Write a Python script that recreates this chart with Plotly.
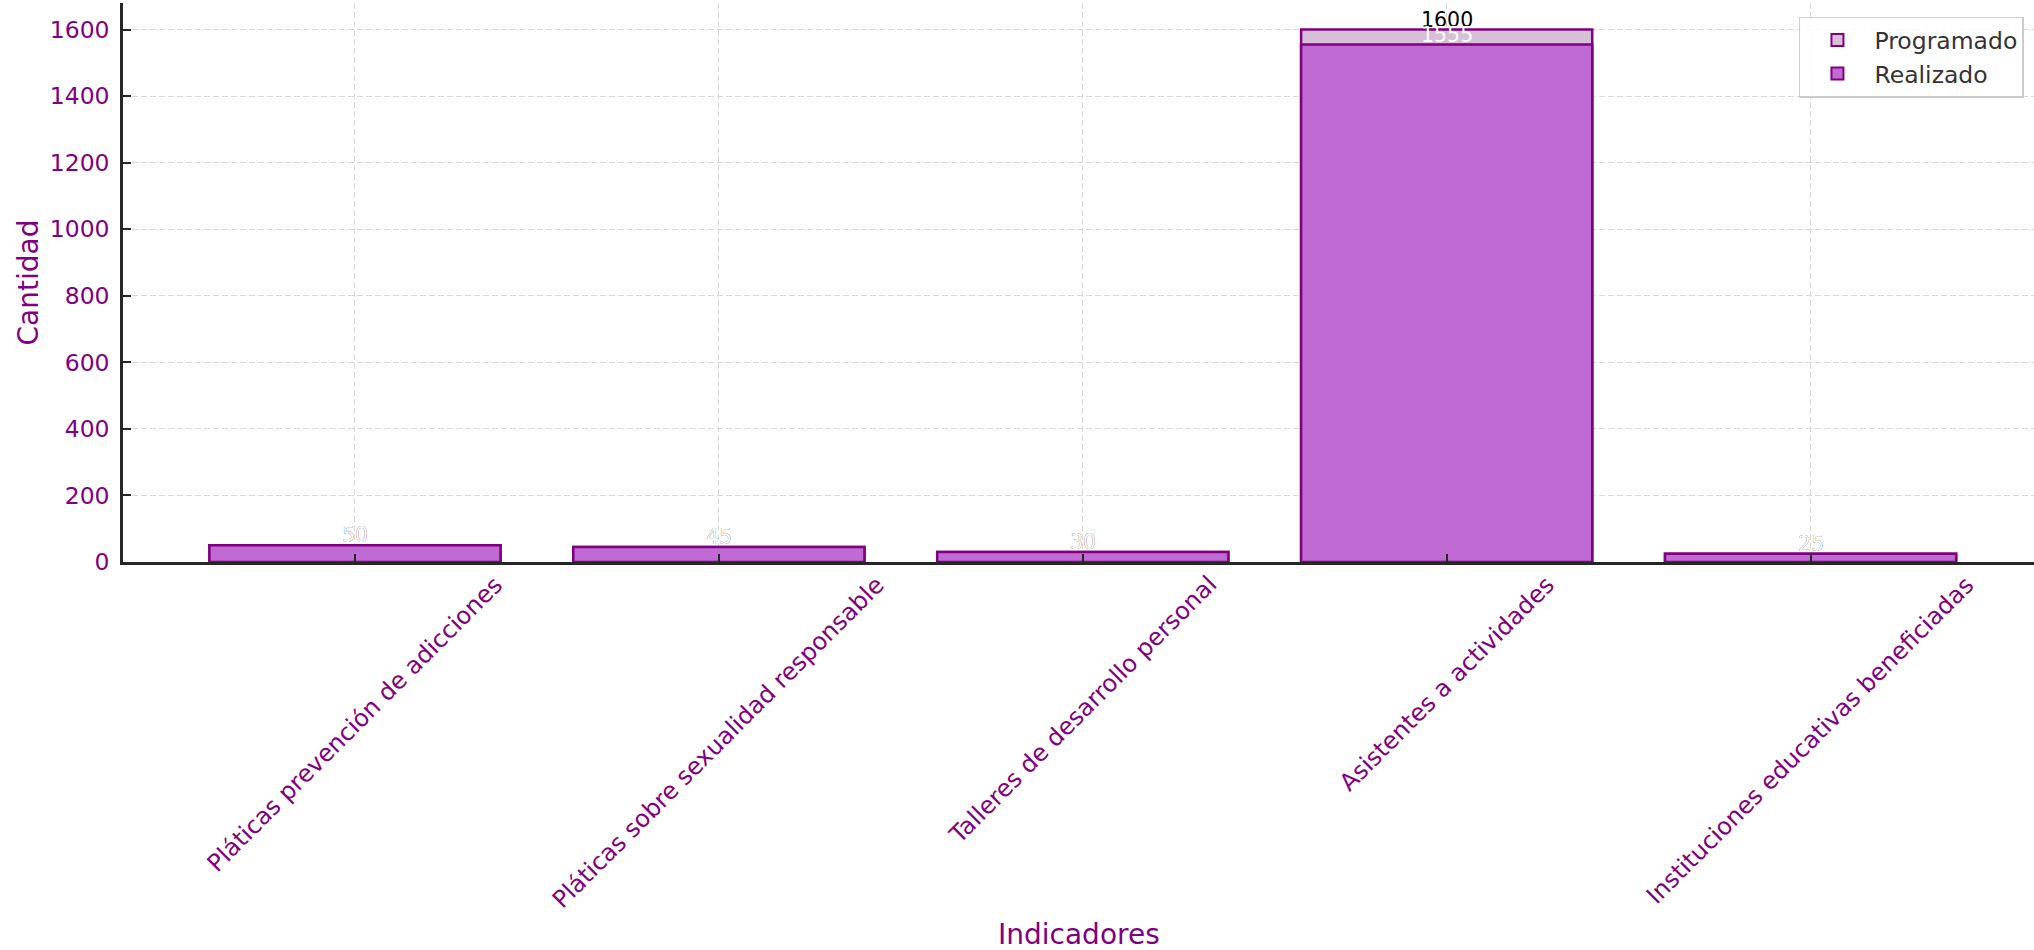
import plotly.graph_objects as go

categorias = [
    "Pláticas prevención de adicciones",
    "Pláticas sobre sexualidad responsable",
    "Talleres de desarrollo personal",
    "Asistentes a actividades",
    "Instituciones educativas beneficiadas",
]
programado = [50, 45, 30, 1600, 25]
realizado = [50, 45, 30, 1555, 25]
y_ticks = [0, 200, 400, 600, 800, 1000, 1200, 1400, 1600]

FONT = "DejaVu Sans"
PURPLE = "#800080"

fig = go.Figure()
fig.add_trace(go.Bar(
    x=categorias, y=programado, name="Programado", width=0.8,
    marker=dict(color="#D8BFD8", line=dict(color=PURPLE, width=2.5)),
))
fig.add_trace(go.Bar(
    x=categorias, y=realizado, name="Realizado", width=0.8,
    marker=dict(color="#BF6BD3", line=dict(color=PURPLE, width=2.5)),
))

annotations = []
for c, p, r in zip(categorias, programado, realizado):
    annotations.append(dict(x=c, y=p, xref="x", yref="y", text=str(p), showarrow=False,
                            yanchor="bottom", yshift=-4,
                            font=dict(family=FONT, size=20.5, color="black")))
    annotations.append(dict(x=c, y=r, xref="x", yref="y", text=str(r), showarrow=False,
                            yanchor="bottom", yshift=-4,
                            font=dict(family=FONT, size=20.5, color="white")))
# rotated category labels centred on their ticks
for c in categorias:
    annotations.append(dict(x=c, y=0, xref="x", yref="paper", text=c, showarrow=False,
                            textangle=-45, xanchor="center", yanchor="top", yshift=-6,
                            font=dict(family=FONT, size=24, color=PURPLE)))
# x-axis title
annotations.append(dict(x=0.5, y=-0.667, xref="paper", yref="paper", text="Indicadores",
                        showarrow=False, xanchor="center", yanchor="middle",
                        font=dict(family=FONT, size=28, color=PURPLE)))

fig.update_layout(
    width=2034, height=950,
    margin=dict(l=123, r=0, t=3, b=388, autoexpand=False),
    barmode="overlay",
    plot_bgcolor="white", paper_bgcolor="white",
    font=dict(family=FONT, size=23.5, color=PURPLE),
    annotations=annotations,
    legend=dict(
        x=0.877, xanchor="left", y=0.9755, yanchor="top",
        bgcolor="rgba(255,255,255,0.85)", bordercolor="#cccccc", borderwidth=1.5,
        font=dict(family=FONT, size=23.5, color="#333333"),
        traceorder="normal", itemsizing="constant", itemwidth=64,
    ),
    showlegend=True,
)
fig.update_xaxes(
    type="category", range=[-0.6375, 4.614], automargin=False,
    showticklabels=False,
    showgrid=True, gridcolor="#d9d9d9", gridwidth=1.3, griddash="6px,3px",
    showline=True, linecolor="#262626", linewidth=2.5,
    ticks="inside", ticklen=8, tickwidth=2, tickcolor="#262626",
    zeroline=False,
)
fig.update_yaxes(
    range=[0, 1680], tickvals=y_ticks, automargin=False,
    showgrid=True, gridcolor="#d9d9d9", gridwidth=1.3, griddash="6px,3px",
    showline=True, linecolor="#262626", linewidth=2.5,
    ticks="inside", ticklen=8, tickwidth=2, tickcolor="#262626",
    ticklabelstandoff=6,
    tickfont=dict(family=FONT, size=23.5, color=PURPLE),
    zeroline=False,
    title=dict(text="Cantidad", font=dict(family=FONT, size=28, color=PURPLE), standoff=3),
)

fig.write_html("out.html", config={"displayModeBar": False},
               post_script="document.body.style.margin='0';")
